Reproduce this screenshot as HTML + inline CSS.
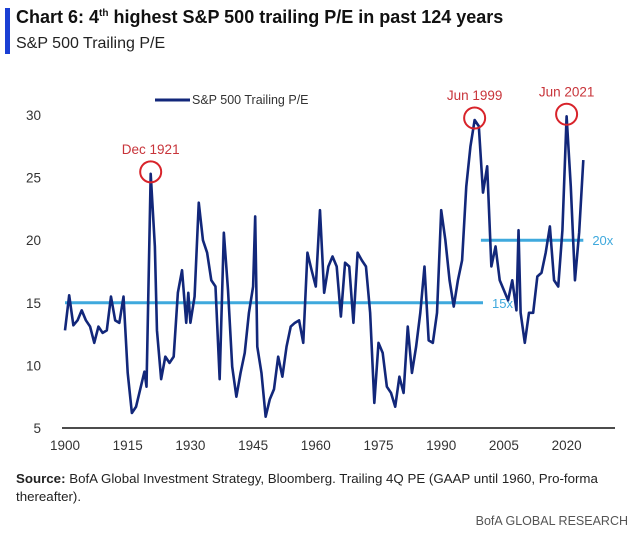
<!DOCTYPE html>
<html><head><meta charset="utf-8">
<style>
body{margin:0;width:640px;height:536px;background:#fff;font-family:"Liberation Sans",sans-serif;overflow:hidden;position:relative}
.t{position:absolute;white-space:nowrap}
</style></head><body>
<div style="position:absolute;left:5px;top:8px;width:5px;height:46px;background:#1a3fd4"></div>
<div class="t" style="left:16px;top:7px;font-size:18px;font-weight:bold;color:#111">Chart 6: 4<sup style="font-size:10px">th</sup> highest S&amp;P 500 trailing P/E in past 124 years</div>
<div class="t" style="left:16px;top:35px;font-size:16px;color:#222">S&amp;P 500 Trailing P/E</div>
<svg id="c" width="640" height="536" style="position:absolute;left:0;top:0"></svg>
<div class="t" style="left:16px;top:470px;font-size:13.3px;color:#222;line-height:18px"><b>Source:</b> BofA Global Investment Strategy, Bloomberg. Trailing 4Q PE (GAAP until 1960, Pro-forma<br>thereafter).</div>
<div class="t" style="right:12px;top:514px;font-size:12.5px;color:#555">BofA GLOBAL RESEARCH</div>
<script>
const years=[1900,1901,1902,1903,1904,1905,1906,1907,1908,1909,1910,1911,1912,1913,1914,1915,1916,1917,1918,1919,1919.5,1920.5,1921.5,1922,1923,1924,1925,1926,1927,1928,1929,1929.5,1930,1931,1932,1933,1934,1935,1936,1937,1938,1939,1940,1941,1942,1943,1944,1945,1945.5,1946,1947,1948,1949,1950,1951,1952,1953,1954,1955,1956,1957,1958,1959,1960,1961,1962,1963,1964,1965,1966,1967,1968,1969,1970,1971,1972,1973,1974,1975,1976,1977,1978,1979,1980,1981,1982,1983,1984,1985,1986,1987,1988,1989,1990,1991,1992,1993,1994,1995,1996,1997,1998,1999,2000,2001,2002,2003,2004,2005,2006,2007,2008,2008.5,2009,2010,2011,2012,2013,2014,2015,2016,2017,2018,2019,2020,2021,2022,2023,2024];
const pe=[12.8,15.6,13.2,13.6,14.4,13.6,13.1,11.8,13.1,12.6,12.8,15.5,13.6,13.4,15.5,9.4,6.2,6.7,8.1,9.5,8.3,25.3,19.5,12.8,8.9,10.7,10.2,10.7,15.8,17.6,13.4,15.8,13.4,15.5,23,20,19,16.8,16.3,8.9,20.6,16,9.9,7.5,9.4,11,14.2,16.3,21.9,11.5,9.4,5.9,7.3,8.1,10.7,9.1,11.5,13.1,13.4,13.6,11.8,19,17.6,16.3,22.4,15.8,17.9,18.7,17.9,13.9,18.2,17.9,13.4,19,18.4,17.9,14.2,7,11.8,11,8.3,7.8,6.7,9.1,7.8,13.1,9.4,11.5,14.2,17.9,12,11.8,14.2,22.4,20,16.8,14.7,16.8,18.4,24.3,27.5,29.6,29.1,23.8,25.9,17.9,19.5,16.8,16,15.2,16.8,14.4,20.8,14.2,11.8,14.2,14.2,17.1,17.4,19,21.1,16.8,16.3,20.8,29.9,24.3,16.8,20.6,26.4];
const yTicks=[5,10,15,20,25,30];
const xTicks=[1900,1915,1930,1945,1960,1975,1990,2005,2020];
const refLevels=[15,20];
const refStart=[1900,1999.5];
const refEnd=[2000,2024];
const refLabels=["15x","20x"];
const peaks=[1920.5,1998,2020];
const peakVals=[25.3,29.6,29.9];
const peakLabels=["Dec 1921","Jun 1999","Jun 2021"];
const NS="http://www.w3.org/2000/svg",svg=document.getElementById('c');
const X=y=>65+(y-1900)*4.18, Y=v=>428-(v-5)*12.52;
function mk(t,a,txt){const e=document.createElementNS(NS,t);for(const k in a)e.setAttribute(k,a[k]);if(txt!=null)e.textContent=txt;svg.appendChild(e);return e;}
yTicks.forEach(v=>{const e=mk('text',{x:41,y:Y(v)+5,'text-anchor':'end','font-size':13.5,fill:'#333','font-family':'Liberation Sans'},v);

});
xTicks.forEach(v=>{const e=mk('text',{x:X(v),y:450,'text-anchor':'middle','font-size':13.5,fill:'#333','font-family':'Liberation Sans'},v);

});
const ax=mk('line',{x1:62,x2:615,y1:428,y2:428,stroke:'#111','stroke-width':1.5});


refLevels.forEach((v,i)=>{const l=mk('line',{x1:X(refStart[i]),x2:X(refEnd[i]),y1:Y(v),y2:Y(v),stroke:'#3fa9dd','stroke-width':3});


const t=mk('text',{x:X(refEnd[i])+9,y:Y(v)+5,'font-size':13,fill:'#3fa9dd','font-family':'Liberation Sans'},refLabels[i]);

});
const p=mk('polyline',{points:years.map((y,i)=>X(y)+','+Y(pe[i])).join(' '),fill:'none',stroke:'#12277a','stroke-width':2.6,'stroke-linejoin':'round'});


peaks.forEach((y,i)=>{const c=mk('circle',{cx:X(y),cy:Y(peakVals[i])-2,r:10.5,fill:'none',stroke:'#d8232a','stroke-width':2});


const t=mk('text',{x:X(y),y:Y(peakVals[i])-20,'text-anchor':'middle','font-size':13.5,fill:'#c8343a','font-family':'Liberation Sans'},peakLabels[i]);

});
const ll=mk('line',{x1:155,x2:190,y1:100,y2:100,stroke:'#12277a','stroke-width':3});


const lt=mk('text',{x:192,y:104,'font-size':12.5,fill:'#333','font-family':'Liberation Sans'},'S&P 500 Trailing P/E');


</script>
</body></html>
